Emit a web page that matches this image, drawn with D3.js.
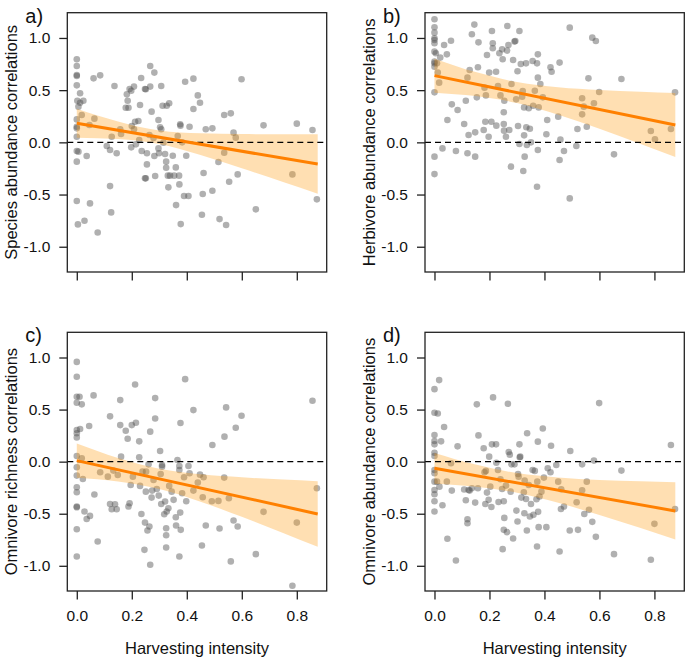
<!DOCTYPE html>
<html>
<head>
<meta charset="utf-8">
<script src="https://cdn.jsdelivr.net/npm/d3@7"></script>
<style>
  body { margin: 0; background: #ffffff; }
  svg { display: block; font-family: "Liberation Sans", Arial, sans-serif; }
</style>
</head>
<body>
<script>
// ---------------- DATA ----------------
const xTicks = [0, 0.2, 0.4, 0.6, 0.8];
const yTicks = [-1, -0.5, 0, 0.5, 1];
const xTitle = "Harvesting intensity";
const panelLetters = ["a)", "b)", "c)", "d)"];
const yTitles = ["Species abundance correlations", "Herbivore abundance correlations",
                 "Omnivore richness correlations", "Omnivore abundance correlations"];

// a) species abundance
const speciesX = [0,0,0,0,0,0.012,0.002,0.012,0.024,0.006,0.018,0,0,0,0,0,0.006,0,0,0.004,
  0.028,0.036,0.046,0.048,0.061,0.064,0.076,0.085,0.109,0.121,0.121,0.127,0.125,0.137,0.145,0.158,0.161,0.178,0.182,0.185,
  0.188,0.192,0.198,0.2,0.198,0.208,0.208,0.212,0.215,0.224,0.227,0.230,0.234,0.236,0.248,0.251,0.248,0.251,0.255,0.255,
  0.264,0.267,0.267,0.272,0.279,0.282,0.282,0.285,0.297,0.297,0.303,0.299,0.307,0.307,0.312,0.315,0.321,0.325,0.325,0.327,
  0.331,0.333,0.336,0.339,0.349,0.354,0.360,0.361,0.367,0.372,0.373,0.376,0.377,0.378,0.383,0.390,0.394,0.398,0.406,0.410,
  0.424,0.424,0.440,0.448,0.458,0.455,0.461,0.469,0.493,0.493,0.515,0.519,0.536,0.536,0.543,0.554,0.560,0.570,0.578,0.585,
  0.599,0.651,0.679,0.784,0.8,0.857,0.873];
const speciesY = [0.796,0.732,0.645,0.636,0.546,0.470,0.399,0.380,0.399,0.342,0.262,0.220,0.150,0.134,0.054,-0.083,-0.089,-0.185,-0.562,-0.786,
  -0.751,-0.131,0.166,-0.585,0.613,0.227,-0.863,0.642,-0.035,-0.073,-0.419,0.054,-0.671,0.540,-0.105,0.125,0.080,0.332,0.460,0.399,
  0.332,0.511,0.495,0.157,-0.048,0.534,0.125,0.198,-0.019,0.204,0.022,0.358,0.617,-0.083,0.511,0.508,-0.345,-0.345,-0.105,-0.211,
  0.070,0.732,0.534,0.294,0.042,0.668,-0.131,-0.323,0.214,-0.058,0.144,-0.105,0.540,0.125,0.351,-0.003,-0.112,-0.185,-0.243,0.351,
  -0.319,-0.431,0.374,-0.319,-0.128,-0.319,-0.240,-0.601,0.061,-0.319,-0.403,0.173,0.160,-0.783,0,-0.514,0.581,-0.128,-0.514,0.150,
  0.319,0.610,0.450,0.380,-0.495,-0.693,-0.294,0.125,0.134,-0.463,-0.188,-0.735,0.262,-0.099,-0.792,-0.377,0.278,0.093,0.045,-0.307,
  0.604,-0.642,0.163,-0.307,0.179,0.118,-0.546];
const speciesFit = [0.182, -0.208];

// b) herbivore abundance
const herbX = [0,0,0,0,0,0,0,0,0,0,0,0,0,
  0.005,0.009,0.012,0.017,0.021,0.029,0.035,0.045,0.047,0.060,0.063,0.078,0.084,0.108,0.114,0.120,0.120,0.124,0.128,0.136,
  0.145,0.148,0.148,0.154,0.158,0.160,0.179,0.182,0.185,0.187,0.191,0.197,0.199,0.207,0.209,0.212,0.212,0.224,0.225,0.231,
  0.236,0.240,0.246,0.248,0.252,0.252,0.253,0.254,0.260,0.264,0.265,0.269,0.272,0.278,0.280,0.286,0.291,0.294,0.297,0.302,
  0.304,0.309,0.309,0.314,0.319,0.321,0.323,0.326,0.328,0.326,0.333,0.334,0.336,0.343,0.347,0.351,0.357,0.359,0.365,0.373,
  0.376,0.376,0.376,0.373,0.379,0.385,0.394,0.410,0.407,0.422,0.426,0.450,0.455,0.455,0.458,0.471,0.492,0.492,0.516,0.520,
  0.537,0.537,0.543,0.554,0.560,0.574,0.580,0.587,0.599,0.653,0.680,0.787,0.802,0.860,0.875];
const herbY = [1.179,1.102,1.051,0.997,0.981,0.949,0.869,0.773,0.757,0.725,0.479,-0.137,-0.304,
  0.853,0.757,0.668,0.572,0.812,-0.058,0.933,0.843,0.214,0.974,0.364,-0.083,0.310,0.176,0.399,-0.105,0.620,0.070,0.693,1.035,
  1.128,-0.137,0.096,0.431,0.719,0.958,0.118,0.524,0.198,0.450,0.837,0.054,0.668,0.198,1.067,0.949,0.901,0.677,0.160,0.540,
  0.853,0.450,0.891,0.796,0.176,0.288,0.112,0.399,0.054,0.879,1.115,0.933,0.118,-0.233,0.559,0.789,0.965,0.971,0.412,0.681,
  0.157,1.067,-0.016,0.751,0.438,0.492,-0.275,0.067,-0.137,0.335,0.757,0.144,-0.026,0.326,0.131,0,0.780,0.351,0.495,0.757,
  0.843,0.620,-0.073,-0.425,0.335,0.559,0.431,0.214,0.077,0.719,0.677,0.246,0.764,-0.169,0.026,-0.083,1.099,-0.537,-0.035,0.128,
  0.422,0.268,0.342,0.150,0.613,1.003,0.374,0.971,0.482,-0.115,0.607,0.109,0.029,0.128,0.479];
const herbFit = [0.639, 0.166];

// c) omnivore richness
const omniRichX = [0,0,0,0,0,0,0,0,0,0,0,0,0,0,0,0,
  0.010,0.012,0.018,0.018,0.022,0.028,0.036,0.045,0.048,0.061,0.064,0.076,0.085,0.113,0.121,0.121,0.127,0.133,0.139,0.145,
  0.149,0.158,0.158,0.161,0.178,0.185,0.188,0.192,0.196,0.2,0.204,0.212,0.215,0.227,0.227,0.230,0.235,0.239,0.246,0.248,
  0.251,0.252,0.257,0.261,0.264,0.267,0.267,0.272,0.274,0.279,0.285,0.285,0.291,0.298,0.303,0.305,0.307,0.310,0.310,0.318,
  0.321,0.325,0.325,0.325,0.327,0.333,0.336,0.345,0.352,0.360,0.361,0.366,0.373,0.373,0.376,0.377,0.378,0.373,0.383,0.390,
  0.394,0.398,0.406,0.410,0.424,0.424,0.440,0.448,0.455,0.458,0.461,0.469,0.491,0.493,0.515,0.519,0.536,0.537,0.543,0.553,
  0.560,0.570,0.578,0.585,0.599,0.651,0.679,0.784,0.8,0.857,0.873];
const omniRichY = [0.958,0.815,0.623,0.565,0.304,0.272,0.233,0.054,-0.054,-0.134,-0.246,-0.294,-0.431,-0.438,-0.649,-0.911,
  0.623,0.313,0.550,0.032,-0.166,-0.479,-0.550,0.342,-0.521,0.636,-0.316,-0.767,-0.102,-0.144,0.435,-0.406,-0.457,-0.086,-0.409,-0.457,
  -0.128,0.351,0.591,0.048,0.297,0.220,-0.431,-0.399,-0.224,0.351,-0.144,0.741,0.374,0.195,0.042,-0.233,-0.502,-0.096,-0.847,-0.585,
  -0.288,-0.096,-0.661,-0.026,-0.623,0.288,-0.990,-0.345,-0.278,-0.176,0.610,0.415,-0.262,-0.326,0.102,-0.118,-0.406,-0.048,-0.032,-0.505,
  -0.383,-0.639,-0.706,-0.824,-0.479,-0.447,-0.233,-0.288,-0.367,-0.534,-0.613,0.016,-0.080,-0.042,-0.489,0.371,-0.655,-0.911,-0.304,-0.150,
  0.792,-0.380,-0.042,-0.112,0.495,-0.278,-0.201,-0.125,-0.805,-0.342,-0.150,-0.613,-0.380,0.160,-0.377,-0.642,-0.153,0.240,0.521,-0.351,
  -0.958,-0.565,0.326,-0.623,0.441,-0.888,-0.482,-1.192,-0.585,0.585,-0.256];
const omniRichFit = [0.01, -0.502];

// d) omnivore abundance
const omniAbunX = [0,0,0,0,0,0,0,0,0,0,0,0,0,0,
  0.009,0.012,0.017,0.018,0.024,0.029,0.035,0.045,0.047,0.060,0.063,0.078,0.084,0.108,0.114,0.120,0.120,0.124,0.128,0.136,
  0.148,0.154,0.158,0.160,0.179,0.182,0.185,0.187,0.191,0.197,0.199,0.203,0.207,0.213,0.209,0.224,0.225,0.231,0.233,0.240,
  0.246,0.248,0.252,0.254,0.252,0.260,0.264,0.267,0.270,0.274,0.277,0.280,0.286,0.291,0.298,0.302,0.304,0.306,0.309,0.310,
  0.312,0.316,0.325,0.327,0.328,0.333,0.336,0.337,0.343,0.347,0.351,0.357,0.360,0.365,0.371,0.373,0.374,0.377,0.376,0.379,
  0.382,0.389,0.394,0.398,0.407,0.412,0.422,0.424,0.443,0.450,0.455,0.460,0.461,0.471,0.492,0.494,0.517,0.522,0.537,0.537,
  0.545,0.554,0.562,0.574,0.580,0.587,0.599,0.653,0.680,0.787,0.800,0.860,0.875];
const omniAbunY = [0.696,0.470,0.256,0.198,0.166,0.086,0.054,-0.080,-0.112,-0.192,-0.272,-0.313,-0.380,-0.479,
  -0.192,0.463,0.783,-0.240,0.195,-0.419,0.332,-0.192,-0.741,-0.016,-0.278,-0.949,0.147,-0.268,-0.371,-0.553,-0.591,-0.272,-0.278,-0.256,
  -0.393,0.550,-0.256,0.252,0.128,-0.102,-0.406,-0.089,-0.297,-0.367,0.048,-0.240,-0.435,0.617,0.166,0.166,-0.010,-0.080,-0.387,-0.169,
  -0.262,-0.840,-0.380,-0.540,-0.655,-0.230,-0.677,0.556,0.093,0.067,-0.288,-0.026,-0.738,-0.026,-0.470,-0.575,-0.118,-0.144,0.166,0.042,
  0.048,-0.345,-0.294,-0.495,-0.182,-0.358,-0.661,0.272,-0.224,-0.527,-0.406,-0.080,-0.511,-0.089,-0.361,-0.815,-0.192,-0.482,0.192,-0.629,
  -0.335,-0.288,0.319,-0.153,-0.629,-0.064,-0.102,0.153,-0.032,-0.192,-0.863,-0.454,-0.265,-0.431,-0.661,0.102,-0.390,-0.655,-0.026,-0.275,
  -0.502,-0.192,-0.463,-0.578,0.010,-0.722,0.562,-0.888,-0.086,-0.942,-0.597,0.160,-0.454];
const omniAbunFit = [-0.064, -0.473];

// confidence bands (read at these x positions)
const bandX = [0, 0.15, 0.3, 0.45, 0.6, 0.75, 0.876];
const speciesLo = [0.043, 0.031, -0.016, -0.122, -0.249, -0.381, -0.493];
const speciesHi = [0.321, 0.199, 0.113, 0.086, 0.079, 0.077, 0.077];
const herbLo = [0.476, 0.443, 0.376, 0.264, 0.130, -0.015, -0.140];
const herbHi = [0.802, 0.673, 0.578, 0.528, 0.502, 0.485, 0.472];
const omniRichLo = [-0.155, -0.191, -0.263, -0.384, -0.530, -0.684, -0.817];
const omniRichHi = [0.175, 0.036, -0.067, -0.122, -0.150, -0.172, -0.187];
const omniAbunLo = [-0.212, -0.240, -0.298, -0.395, -0.513, -0.638, -0.748];
const omniAbunHi = [0.084, -0.028, -0.110, -0.153, -0.176, -0.189, -0.198];
const fitXEnd = 0.876;

// ---------------- LAYOUT ----------------
const W = 685, H = 658;
const panels = [
  {xs: speciesX, ys: speciesY, fit: speciesFit, lo: speciesLo, hi: speciesHi, L: 67.3, R: 326.7, T: 12.7, B: 272, xLabels: false},
  {xs: herbX, ys: herbY, fit: herbFit, lo: herbLo, hi: herbHi, L: 425, R: 684.3, T: 12.7, B: 272, xLabels: false},
  {xs: omniRichX, ys: omniRichY, fit: omniRichFit, lo: omniRichLo, hi: omniRichHi, L: 67.3, R: 326.7, T: 332.3, B: 591, xLabels: true},
  {xs: omniAbunX, ys: omniAbunY, fit: omniAbunFit, lo: omniAbunLo, hi: omniAbunHi, L: 425, R: 684.3, T: 332.3, B: 591, xLabels: true}
];

const svg = d3.select("body").append("svg").attr("width", W).attr("height", H);
const fmt = d => d.toFixed(1);

panels.forEach((p, i) => {
  const x = d3.scaleLinear().domain([-0.0345, 0.9087]).range([p.L, p.R]);
  const y = d3.scaleLinear().domain([-1.242, 1.242]).range([p.B, p.T]);
  const g = svg.append("g");

  // points
  g.selectAll("circle").data(d3.range(p.xs.length)).join("circle")
    .attr("cx", k => x(p.xs[k])).attr("cy", k => y(p.ys[k])).attr("r", 3.3)
    .attr("fill", "#505050").attr("fill-opacity", 0.45);

  // band
  const bandData = bandX.map((bx, k) => ({x: bx, lo: p.lo[k], hi: p.hi[k]}));
  g.append("path").datum(bandData)
    .attr("d", d3.area().x(d => x(d.x)).y0(d => y(d.lo)).y1(d => y(d.hi)).curve(d3.curveMonotoneX))
    .attr("fill", "#FFA01E").attr("fill-opacity", 0.34);

  // zero line
  g.append("line").attr("x1", p.L).attr("x2", p.R).attr("y1", y(0)).attr("y2", y(0))
    .attr("stroke", "#000").attr("stroke-width", 1.4).attr("stroke-dasharray", "6,4");

  // fit line
  g.append("path").datum([[0, p.fit[0]], [fitXEnd, p.fit[1]]])
    .attr("d", d3.line().x(d => x(d[0])).y(d => y(d[1])))
    .attr("stroke", "#FF8000").attr("stroke-width", 3).attr("fill", "none");

  // box
  g.append("rect").attr("x", p.L).attr("y", p.T).attr("width", p.R - p.L).attr("height", p.B - p.T)
    .attr("fill", "none").attr("stroke", "#222").attr("stroke-width", 1.3);

  // y axis
  const ya = g.append("g").attr("transform", `translate(${p.L},0)`)
    .call(d3.axisLeft(y).tickValues(yTicks).tickFormat(fmt).tickSize(8).tickPadding(9));
  ya.select(".domain").remove();
  ya.selectAll("line").attr("stroke", "#222").attr("stroke-width", 1.3);
  ya.selectAll("text").attr("font-size", 15.5).attr("fill", "#111").attr("font-family", "Liberation Sans, Arial, sans-serif");

  // x axis
  const xa = g.append("g").attr("transform", `translate(0,${p.B})`)
    .call(d3.axisBottom(x).tickValues(xTicks).tickFormat(p.xLabels ? fmt : () => "").tickSize(8.5).tickPadding(10.5));
  xa.select(".domain").remove();
  xa.selectAll("line").attr("stroke", "#222").attr("stroke-width", 1.3);
  xa.selectAll("text").attr("font-size", 15.5).attr("fill", "#111").attr("font-family", "Liberation Sans, Arial, sans-serif");

  // x title
  if (p.xLabels) {
    g.append("text").attr("x", (p.L + p.R) / 2).attr("y", p.B + 63)
      .attr("text-anchor", "middle").attr("font-size", 16.5).attr("fill", "#111").text(xTitle);
  }

  // y title
  g.append("text").attr("transform", `translate(${p.L - 50},${(p.T + p.B) / 2}) rotate(-90)`)
    .attr("text-anchor", "middle").attr("font-size", 16.5).attr("fill", "#111").text(yTitles[i]);

  // panel letter
  g.append("text").attr("x", p.L - 42).attr("y", p.T + 10)
    .attr("font-size", 20).attr("fill", "#111").text(panelLetters[i]);
});
</script>
</body>
</html>
